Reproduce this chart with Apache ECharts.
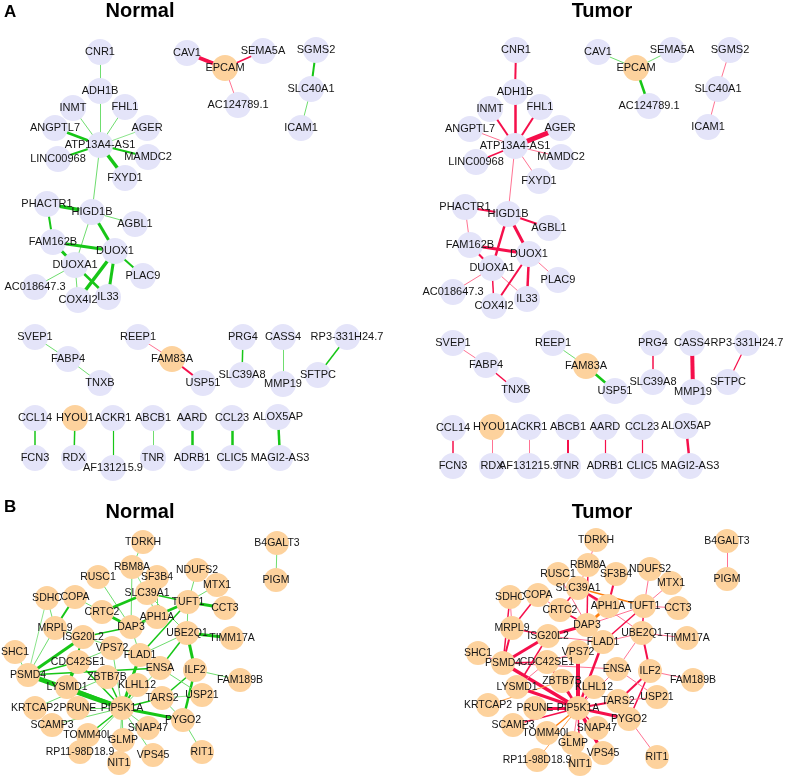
<!DOCTYPE html>
<html><head><meta charset="utf-8">
<script src="https://cdn.jsdelivr.net/npm/echarts/dist/echarts.min.js"></script>
<style>html,body{margin:0;padding:0;background:#fff}#c{width:787px;height:779px}</style>
</head><body><div id="c"></div>
<script>
// ---------- Panel titles ----------
const panelLetters = ['A', 'B'];
const conditionTitles = ['Normal', 'Tumor'];

// ---------- Panel A genes ----------
const genesA = ['CNR1','ADH1B','INMT','FHL1','ANGPTL7','AGER','ATP13A4-AS1','LINC00968','MAMDC2','FXYD1',
  'PHACTR1','HIGD1B','AGBL1','FAM162B','DUOX1','DUOXA1','PLAC9','AC018647.3','COX4I2','IL33',
  'CAV1','EPCAM','SEMA5A','AC124789.1','SGMS2','SLC40A1','ICAM1',
  'SVEP1','FABP4','TNXB','REEP1','FAM83A','USP51','PRG4','SLC39A8','CASS4','MMP19','RP3-331H24.7','SFTPC',
  'CCL14','HYOU1','ACKR1','ABCB1','AARD','CCL23','ALOX5AP',
  'FCN3','RDX','AF131215.9','TNR','ADRB1','CLIC5','MAGI2-AS3'];
const highlightA = ['EPCAM','FAM83A','HYOU1'];

// edges: [source, target, weight Normal, weight Tumor]  (+ = positive/red, - = negative/green)
const edgesA = [
  ['CNR1','ADH1B',-1,2],['ADH1B','ATP13A4-AS1',-1,2.5],['INMT','ATP13A4-AS1',-1,2],['FHL1','ATP13A4-AS1',-1,2],
  ['ANGPTL7','ATP13A4-AS1',-2.5,1],['AGER','ATP13A4-AS1',-0.8,5],['LINC00968','ATP13A4-AS1',-2,1.5],
  ['MAMDC2','ATP13A4-AS1',-2,1],['FXYD1','ATP13A4-AS1',-3.5,1],['ATP13A4-AS1','HIGD1B',-1,1],
  ['PHACTR1','HIGD1B',-3.5,2],['PHACTR1','FAM162B',-2,1],['HIGD1B','AGBL1',-1,2],['HIGD1B','DUOX1',-3,3],
  ['HIGD1B','DUOXA1',-1,2.5],['FAM162B','DUOX1',-3,3],['FAM162B','DUOXA1',-3,2],['DUOXA1','AC018647.3',-1,1],
  ['DUOXA1','COX4I2',-1,1.5],['DUOXA1','IL33',-2.5,1],['DUOX1','COX4I2',-3.5,2],['DUOX1','IL33',-3,2.5],
  ['DUOX1','PLAC9',-2,1],
  ['CAV1','EPCAM',4,-1],['SEMA5A','EPCAM',1.5,-1],['AC124789.1','EPCAM',1,-2.5],
  ['SGMS2','SLC40A1',-2,1],['SLC40A1','ICAM1',-1,1],
  ['SVEP1','FABP4',-1,1],['FABP4','TNXB',-1,1.5],['REEP1','FAM83A',1,-1],['FAM83A','USP51',2,-2.5],
  ['PRG4','SLC39A8',-1.5,1.5],['CASS4','MMP19',-1,4],['RP3-331H24.7','SFTPC',-1.5,1.2],
  ['CCL14','FCN3',-1.5,1.5],['HYOU1','RDX',-1.5,1],['ACKR1','AF131215.9',-1.2,1],['ABCB1','TNR',-1,2],
  ['AARD','ADRB1',-2.5,1.2],['CCL23','CLIC5',-2.5,1.2],['ALOX5AP','MAGI2-AS3',-2.5,2.5]
];

// layout of panel A, Normal network (chart units)
const layoutAN = {
  'CNR1':[100,52],'ADH1B':[100,91],'INMT':[73,108],'FHL1':[125,107],'ANGPTL7':[55,128],'AGER':[147,128],
  'ATP13A4-AS1':[100,145],'LINC00968':[58,159],'MAMDC2':[148,157],'FXYD1':[125,178],
  'PHACTR1':[47,204],'HIGD1B':[92,212],'AGBL1':[135,224],'FAM162B':[53,242],'DUOX1':[115,251],
  'DUOXA1':[75,265],'PLAC9':[143,276],'AC018647.3':[35,287],'COX4I2':[78,300],'IL33':[108,297],
  'CAV1':[187,53],'EPCAM':[225,68],'SEMA5A':[263,51],'AC124789.1':[238,105],
  'SGMS2':[316,50],'SLC40A1':[311,89],'ICAM1':[301,128],
  'SVEP1':[35,337],'FABP4':[68,359],'TNXB':[100,383],'REEP1':[138,337],'FAM83A':[172,359],'USP51':[203,383],
  'PRG4':[243,337],'SLC39A8':[242,375],'CASS4':[283,337],'MMP19':[283,384],'RP3-331H24.7':[347,337],'SFTPC':[318,375],
  'CCL14':[35,418],'HYOU1':[75,418],'ACKR1':[113,418],'ABCB1':[153,418],'AARD':[192,418],'CCL23':[232,418],'ALOX5AP':[278,417],
  'FCN3':[35,458],'RDX':[74,458],'AF131215.9':[113,468],'TNR':[153,458],'ADRB1':[192,458],'CLIC5':[232,458],'MAGI2-AS3':[280,458]
};
// layout of panel A, Tumor network
const layoutAT = {
  'CNR1':[516,50],'ADH1B':[515,92],'INMT':[490,109],'FHL1':[540,107],'ANGPTL7':[470,129],'AGER':[560,128],
  'ATP13A4-AS1':[515,146],'LINC00968':[476,162],'MAMDC2':[561,157],'FXYD1':[539,181],
  'PHACTR1':[465,207],'HIGD1B':[508,214],'AGBL1':[549,228],'FAM162B':[470,245],'DUOX1':[529,254],
  'DUOXA1':[492,268],'PLAC9':[558,280],'AC018647.3':[453,292],'COX4I2':[494,306],'IL33':[527,299],
  'CAV1':[598,52],'EPCAM':[636,68],'SEMA5A':[672,50],'AC124789.1':[649,106],
  'SGMS2':[730,50],'SLC40A1':[718,89],'ICAM1':[708,127],
  'SVEP1':[453,343],'FABP4':[486,365],'TNXB':[516,390],'REEP1':[553,343],'FAM83A':[586,366],'USP51':[615,391],
  'PRG4':[653,343],'SLC39A8':[653,382],'CASS4':[692,343],'MMP19':[693,392],'RP3-331H24.7':[747,343],'SFTPC':[728,382],
  'CCL14':[453,428],'HYOU1':[492,427],'ACKR1':[529,427],'ABCB1':[568,427],'AARD':[605,427],'CCL23':[642,427],'ALOX5AP':[686,426],
  'FCN3':[453,466],'RDX':[492,466],'AF131215.9':[529,466],'TNR':[568,466],'ADRB1':[605,466],'CLIC5':[642,466],'MAGI2-AS3':[690,466]
};

// ---------- Panel B genes ----------
const genesB = ['TDRKH','B4GALT3','PIGM','RBM8A','SF3B4','NDUFS2','RUSC1','MTX1','SLC39A1','SDHC','COPA','TUFT1','CCT3',
  'CRTC2','APH1A','DAP3','UBE2Q1','TIMM17A','MRPL9','ISG20L2','VPS72','FLAD1','SHC1','CDC42SE1','ENSA','ILF2','FAM189B',
  'PSMD4','ZBTB7B','LYSMD1','KLHL12','USP21','TARS2','KRTCAP2','PRUNE','PIP5K1A','PYGO2','SCAMP3','SNAP47','TOMM40L',
  'GLMP','RP11-98D18.9','RIT1','VPS45','NIT1'];

const edgesB = [
  ['TDRKH','RBM8A',-1,1],['RBM8A','DAP3',-1,1.5],['RBM8A','SLC39A1',-0.8,1],['RUSC1','DAP3',-1,1],['SF3B4','APH1A',-1,2],
  ['SLC39A1','TUFT1',-1.5,1.5],['SLC39A1','CRTC2',-2.5,1.5],['SLC39A1','UBE2Q1',-1,1],['SLC39A1','APH1A',-1,2.5],
  ['NDUFS2','TUFT1',-1,1],['MTX1','TUFT1',-1,1],['TUFT1','CCT3',-3,1],['TUFT1','UBE2Q1',-1,1.5],['TUFT1','DAP3',-2.5,1],
  ['TUFT1','FLAD1',-1.5,1.5],['UBE2Q1','TIMM17A',-3,1],['UBE2Q1','ILF2',-3,2],['UBE2Q1','ENSA',-1.5,1],['UBE2Q1','FLAD1',-1,1],
  ['ILF2','PYGO2',-2.5,1.5],['ILF2','FAM189B',-1,1],['ILF2','TARS2',-1.5,2],['ENSA','USP21',-1,1],['TARS2','USP21',-0.8,1],
  ['PSMD4','PIP5K1A',-5,3.5],['PSMD4','ISG20L2',-3,3],['PSMD4','SHC1',-1,1],['PSMD4','ENSA',-1.5,1],['PSMD4','CDC42SE1',-1.5,1.5],
  ['PSMD4','MRPL9',-1,2],['ISG20L2','LYSMD1',-2,1.5],['ISG20L2','DAP3',-1.5,3],['ISG20L2','FLAD1',-1,1],['MRPL9','COPA',-2,1.5],
  ['COPA','CRTC2',-1,1],['SDHC','MRPL9',-1,1],['SDHC','PSMD4',-0.8,1.5],['CRTC2','DAP3',-3,2],['APH1A','DAP3',-1,3],
  ['DAP3','FLAD1',-1,1],['VPS72','CDC42SE1',-1,1],['VPS72','PIP5K1A',-1,4],['FLAD1','PIP5K1A',-3,2.5],['KLHL12','PIP5K1A',-2,1.5],
  ['ENSA','PIP5K1A',-1,1],['TARS2','PIP5K1A',-1.5,2],['PYGO2','PIP5K1A',-3,3],['PYGO2','RIT1',-1,1],['PYGO2','TARS2',-1,1.5],
  ['SNAP47','PIP5K1A',-1,1.5],['VPS45','PIP5K1A',-1,3.5],['GLMP','PIP5K1A',-1,1],['NIT1','PIP5K1A',-1,1.5],
  ['TOMM40L','PIP5K1A',-1.5,1.5],['RP11-98D18.9','PIP5K1A',-1,1],['SCAMP3','PIP5K1A',-1,1.5],['KRTCAP2','ZBTB7B',-1,1],
  ['PRUNE','PIP5K1A',-1,3],['ZBTB7B','PIP5K1A',-1.5,2],['CDC42SE1','PIP5K1A',-1.5,2],['CDC42SE1','LYSMD1',-2,1],
  ['LYSMD1','PIP5K1A',-3,3],['MRPL9','ISG20L2',-1,1.5],['B4GALT3','PIGM',-1,1]
];
// tumor edges drawn in the intermediate (orange) class
const orangeTumorB = ['SLC39A1|TUFT1','APH1A|DAP3','KRTCAP2|ZBTB7B','RP11-98D18.9|PIP5K1A','PYGO2|TARS2','TOMM40L|PIP5K1A'];

const layoutBN = {
  'TDRKH':[143,542],'B4GALT3':[277,543],'PIGM':[276,580],'RBM8A':[132,567],'SF3B4':[157,577],'NDUFS2':[197,570],
  'RUSC1':[98,577],'MTX1':[217,585],'SLC39A1':[147,593],'SDHC':[47,598],'COPA':[75,597],'TUFT1':[188,602],'CCT3':[225,608],
  'CRTC2':[102,612],'APH1A':[157,617],'DAP3':[131,627],'UBE2Q1':[187,633],'TIMM17A':[232,638],'MRPL9':[55,628],
  'ISG20L2':[83,637],'VPS72':[112,648],'FLAD1':[140,655],'SHC1':[15,652],'CDC42SE1':[78,662],'ENSA':[160,668],
  'ILF2':[195,670],'FAM189B':[240,680],'PSMD4':[28,675],'ZBTB7B':[107,677],'LYSMD1':[67,687],'KLHL12':[137,685],
  'USP21':[202,695],'TARS2':[162,698],'KRTCAP2':[35,708],'PRUNE':[78,708],'PIP5K1A':[122,708],'PYGO2':[183,720],
  'SCAMP3':[52,725],'SNAP47':[148,728],'TOMM40L':[88,735],'GLMP':[123,740],'RP11-98D18.9':[80,752],'RIT1':[202,752],
  'VPS45':[153,755],'NIT1':[119,763]
};
const layoutBT = {
  'TDRKH':[596,540],'B4GALT3':[727,541],'PIGM':[727,579],'RBM8A':[588,565],'SF3B4':[616,574],'NDUFS2':[650,569],
  'RUSC1':[558,574],'MTX1':[671,583],'SLC39A1':[578,588],'SDHC':[510,597],'COPA':[538,595],'TUFT1':[644,606],'CCT3':[678,608],
  'CRTC2':[560,610],'APH1A':[608,606],'DAP3':[587,625],'UBE2Q1':[642,633],'TIMM17A':[687,638],'MRPL9':[512,628],
  'ISG20L2':[548,636],'VPS72':[578,652],'FLAD1':[603,642],'SHC1':[478,653],'CDC42SE1':[547,662],'ENSA':[617,669],
  'ILF2':[650,671],'FAM189B':[693,680],'PSMD4':[503,663],'ZBTB7B':[562,681],'LYSMD1':[517,687],'KLHL12':[594,687],
  'USP21':[657,697],'TARS2':[618,701],'KRTCAP2':[488,705],'PRUNE':[535,708],'PIP5K1A':[578,708],'PYGO2':[629,719],
  'SCAMP3':[513,725],'SNAP47':[597,728],'TOMM40L':[547,733],'GLMP':[573,743],'RP11-98D18.9':[537,760],'RIT1':[657,757],
  'VPS45':[603,753],'NIT1':[580,764]
};

// ---------- styling ----------
const LAVENDER = '#e4e4f9';
const ORANGE = '#fdd29d';
const FONT = 'Liberation Sans, Arial, Helvetica, sans-serif';

function edgeStyle(w, orange) {
  const a = Math.abs(w);
  let color;
  if (orange) color = a <= 1 ? '#ffa24d' : '#ff7f0e';
  else if (w > 0) color = a <= 1 ? '#ff7393' : '#f50f4b';
  else color = a <= 1 ? '#6fdd6f' : '#17c617';
  return { color: color, width: a, opacity: 1, curveness: 0 };
}

function graphSeries(genes, layout, highlight, edges, col, orangeList, size, fontSize) {
  const data = genes.map(g => ({
    name: g,
    value: layout[g],
    itemStyle: { color: (highlight === 'all' || highlight.indexOf(g) >= 0) ? ORANGE : LAVENDER }
  }));
  const links = edges.map(e => ({
    source: e[0], target: e[1],
    lineStyle: edgeStyle(e[col], orangeList.indexOf(e[0] + '|' + e[1]) >= 0)
  }));
  return {
    type: 'graph', coordinateSystem: 'cartesian2d', xAxisIndex: 0, yAxisIndex: 0,
    symbol: 'circle', symbolSize: size, edgeSymbol: ['none', 'none'],
    data: data, links: links, silent: true, animation: false,
    label: { show: true, position: 'inside', color: '#151515', fontSize: fontSize, fontFamily: FONT },
    emphasis: { disabled: true }
  };
}

const chart = echarts.init(document.getElementById('c'), null, { renderer: 'canvas' });
const titleStyle = (txt, x, y, size, align) => ({
  type: 'text', x: x, y: y, silent: true,
  style: { text: txt, fill: '#000', font: 'bold ' + size + 'px ' + FONT, textAlign: align, textVerticalAlign: 'middle' }
});

chart.setOption({
  backgroundColor: '#ffffff',
  animation: false,
  grid: { left: 0, right: 0, top: 0, bottom: 0 },
  xAxis: { type: 'value', min: 0, max: 787, show: false },
  yAxis: { type: 'value', min: 0, max: 779, inverse: true, show: false },
  graphic: [
    titleStyle(panelLetters[0], 4, 12, 17, 'left'),
    titleStyle(conditionTitles[0], 140, 11, 20, 'center'),
    titleStyle(conditionTitles[1], 602, 11, 20, 'center'),
    titleStyle(panelLetters[1], 4, 507, 17, 'left'),
    titleStyle(conditionTitles[0], 140, 512, 20, 'center'),
    titleStyle(conditionTitles[1], 602, 512, 20, 'center')
  ],
  series: [
    graphSeries(genesA, layoutAN, highlightA, edgesA, 2, [], 26, 11),
    graphSeries(genesA, layoutAT, highlightA, edgesA, 3, [], 26, 11),
    graphSeries(genesB, layoutBN, 'all', edgesB, 2, [], 24, 10.5),
    graphSeries(genesB, layoutBT, 'all', edgesB, 3, orangeTumorB, 24, 10.5)
  ]
});
</script></body></html>
